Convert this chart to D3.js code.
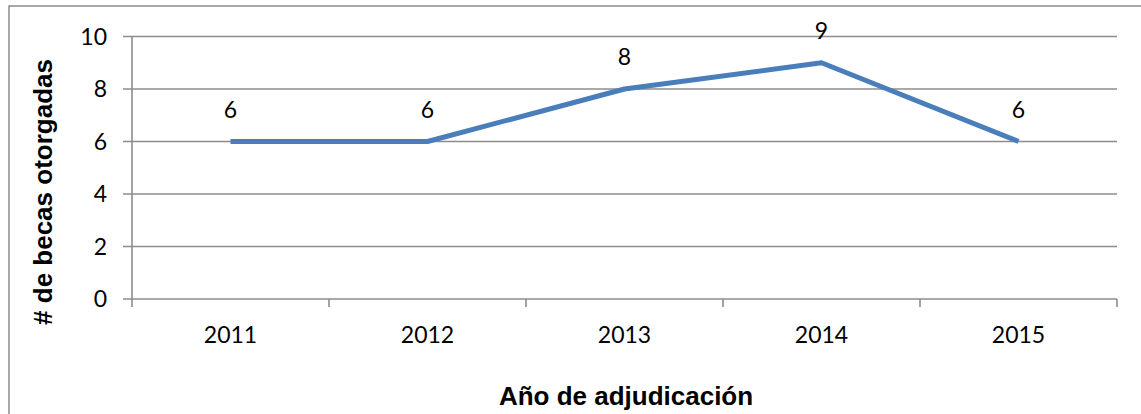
<!DOCTYPE html>
<html>
<head>
<meta charset="utf-8">
<script src="https://cdn.jsdelivr.net/npm/d3@7"></script>
<style>
  body { margin: 0; background: #fff; }
  svg { display: block; }
</style>
</head>
<body>
<div id="chart"></div>
<script>
// años y becas otorgadas
var years = ["2011", "2012", "2013", "2014", "2015"];
var becas = [6, 6, 8, 9, 6];
var yTicks = [0, 2, 4, 6, 8, 10];

var width = 1141, height = 414;
var margin = {top: 36.5, right: 24, bottom: 115, left: 132};

var svg = d3.select("#chart").append("svg")
    .attr("width", width)
    .attr("height", height);

// marco exterior (se corta por la derecha y abajo)
svg.append("rect")
    .attr("x", 9).attr("y", 6)
    .attr("width", width).attr("height", height)
    .attr("fill", "none")
    .attr("stroke", "#8c8c8c")
    .attr("stroke-width", 1.5);

var x = d3.scaleBand()
    .domain(years)
    .range([margin.left, width - margin.right])
    .padding(0);

var y = d3.scaleLinear()
    .domain([0, 10])
    .range([height - margin.bottom, margin.top]);

var gridColor = "#8c8c8c";

// lineas horizontales + marcas del eje y
svg.append("g")
    .selectAll("line")
    .data(yTicks)
    .enter().append("line")
    .attr("x1", margin.left - 9)
    .attr("x2", width - margin.right)
    .attr("y1", function(d) { return y(d); })
    .attr("y2", function(d) { return y(d); })
    .attr("stroke", gridColor)
    .attr("stroke-width", 1.6);

// eje y vertical
svg.append("line")
    .attr("x1", margin.left).attr("x2", margin.left)
    .attr("y1", y(10)).attr("y2", y(0))
    .attr("stroke", gridColor)
    .attr("stroke-width", 1.6);

// marcas del eje x entre categorias
var bounds = years.map(function(d) { return x(d); }).concat([x(years[years.length - 1]) + x.bandwidth()]);
svg.append("g")
    .selectAll("line")
    .data(bounds)
    .enter().append("line")
    .attr("x1", function(d) { return d; })
    .attr("x2", function(d) { return d; })
    .attr("y1", y(0))
    .attr("y2", y(0) + 8)
    .attr("stroke", gridColor)
    .attr("stroke-width", 1.6);

// etiquetas eje y
svg.append("g")
    .selectAll("text")
    .data(yTicks)
    .enter().append("text")
    .attr("x", 107)
    .attr("y", function(d) { return y(d); })
    .attr("dy", "0.36em")
    .attr("text-anchor", "end")
    .attr("font-family", "Lato, 'Open Sans', sans-serif")
    .attr("font-size", 23)
    .attr("fill", "#000")
    .text(function(d) { return d; });

// etiquetas eje x
svg.append("g")
    .selectAll("text")
    .data(years)
    .enter().append("text")
    .attr("x", function(d) { return x(d) + x.bandwidth() / 2; })
    .attr("y", 343)
    .attr("text-anchor", "middle")
    .attr("font-family", "Lato, 'Open Sans', sans-serif")
    .attr("font-size", 23)
    .attr("fill", "#000")
    .text(function(d) { return d; });

// la linea
var pts = years.map(function(d, i) { return [d, becas[i]]; });
var line = d3.line()
    .x(function(d) { return x(d[0]) + x.bandwidth() / 2; })
    .y(function(d) { return y(d[1]); });

svg.append("path")
    .datum(pts)
    .attr("d", line)
    .attr("fill", "none")
    .attr("stroke", "#4a7ebb")
    .attr("stroke-width", 5)
    .attr("stroke-linejoin", "round");

// valores
svg.append("g")
    .selectAll("text")
    .data(pts)
    .enter().append("text")
    .attr("x", function(d) { return x(d[0]) + x.bandwidth() / 2; })
    .attr("y", function(d) { return y(d[1]) - 24; })
    .attr("text-anchor", "middle")
    .attr("font-family", "Lato, 'Open Sans', sans-serif")
    .attr("font-size", 23)
    .attr("fill", "#000")
    .text(function(d) { return d[1]; });

// titulos de ejes
svg.append("text")
    .attr("x", 626)
    .attr("y", 405)
    .attr("text-anchor", "middle")
    .attr("font-family", "'Liberation Sans', Arial, sans-serif")
    .attr("font-weight", "bold")
    .attr("font-size", 26)
    .attr("fill", "#000")
    .text("Año de adjudicación");

svg.append("text")
    .attr("transform", "translate(52,192) rotate(-90)")
    .attr("text-anchor", "middle")
    .attr("font-family", "'Liberation Sans', Arial, sans-serif")
    .attr("font-weight", "bold")
    .attr("font-size", 26)
    .attr("fill", "#000")
    .text("# de becas otorgadas");
</script>
</body>
</html>
